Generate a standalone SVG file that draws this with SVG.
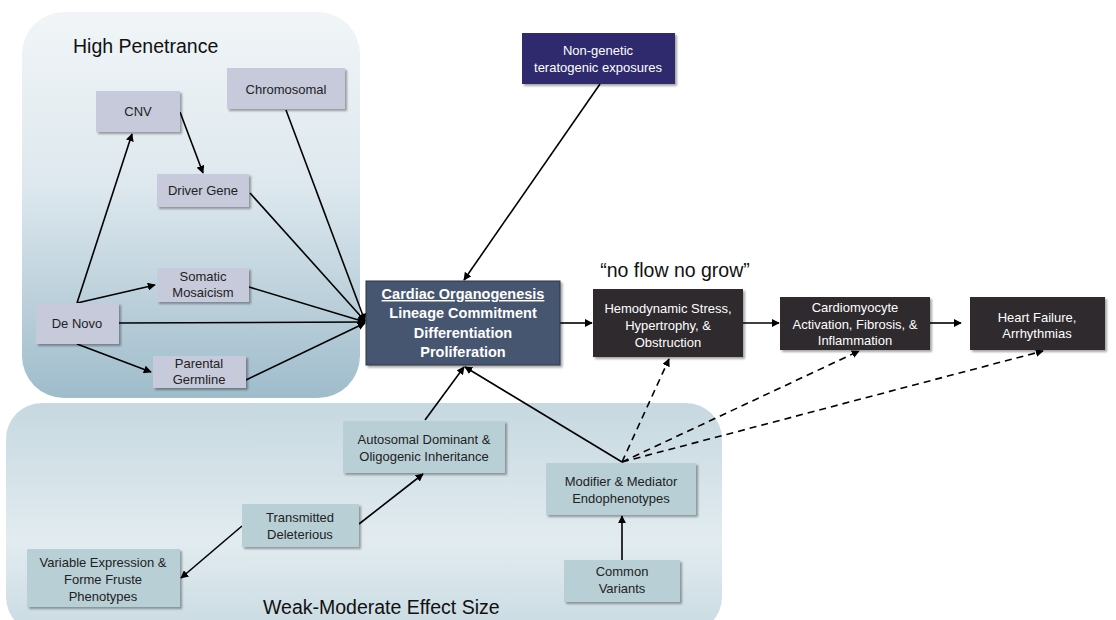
<svg xmlns="http://www.w3.org/2000/svg" width="1116" height="620" viewBox="0 0 1116 620">
<defs>
  <linearGradient id="gTop" x1="0" y1="0" x2="0" y2="1">
    <stop offset="0" stop-color="#f1f5f7"/>
    <stop offset="0.45" stop-color="#dde8ee"/>
    <stop offset="1" stop-color="#9fbccb"/>
  </linearGradient>
  <linearGradient id="gBot" x1="0" y1="0" x2="0" y2="1">
    <stop offset="0" stop-color="#c6d8e0"/>
    <stop offset="0.6" stop-color="#e2ecf0"/>
    <stop offset="1" stop-color="#c9dae2"/>
  </linearGradient>
  <marker id="ah" viewBox="0 0 10 10" refX="9" refY="5" markerWidth="8" markerHeight="8" markerUnits="userSpaceOnUse" orient="auto">
    <path d="M0,0 L10,5 L0,10 z" fill="#000"/>
  </marker>
  <filter id="sh" x="-10%" y="-10%" width="130%" height="140%">
    <feDropShadow dx="2" dy="2" stdDeviation="1.2" flood-color="#000" flood-opacity="0.35"/>
  </filter>
</defs>
<style>
  text { font-family: "Liberation Sans", Arial, sans-serif; text-anchor: middle; }
  .hp rect { fill: #c6cadb; filter: url(#sh); }
  .wm rect { fill: #b9cfd6; filter: url(#sh); }
  .nt { font-size: 13px; fill: #222; }
  .wt { font-size: 13px; fill: #fff; }
  .bt { font-size: 14.5px; fill: #fff; font-weight: bold; }
  .title { font-size: 19.5px; fill: #111; text-anchor: start; }
  .c line, .c polyline { stroke: #000; stroke-width: 1.6; fill: none; marker-end: url(#ah); }
  .c .d { stroke-dasharray: 7 5; }
</style>

<g id="panel-high">
  <rect x="22" y="12" width="338" height="386" rx="42" fill="url(#gTop)"/>
  <text class="title" x="73" y="53">High Penetrance</text>
</g>
<g id="panel-weak">
  <rect x="6" y="403" width="716" height="230" rx="36" fill="url(#gBot)"/>
  <text class="title" x="263" y="614">Weak-Moderate Effect Size</text>
</g>

<g id="connectors" class="c">
  <line x1="286" y1="110" x2="365" y2="321"/>
  <line x1="250" y1="193" x2="365" y2="321"/>
  <line x1="249" y1="287" x2="365" y2="322"/>
  <line x1="119" y1="323" x2="365" y2="322"/>
  <line x1="246" y1="380" x2="365" y2="323"/>
  <line x1="77" y1="303" x2="132" y2="134"/>
  <line x1="77" y1="303" x2="155" y2="285"/>
  <line x1="77" y1="344" x2="151" y2="372"/>
  <line x1="180" y1="112" x2="203" y2="173"/>
  <line x1="600" y1="84" x2="464" y2="280"/>
  <line x1="560" y1="323" x2="592" y2="323"/>
  <line x1="743" y1="323" x2="779" y2="323"/>
  <line x1="930" y1="323" x2="961" y2="323"/>
  <line x1="425" y1="420" x2="464" y2="367"/>
  <line x1="622" y1="462" x2="465" y2="367"/>
  <line class="d" x1="622" y1="462" x2="669" y2="359"/>
  <line class="d" x1="622" y1="462" x2="859" y2="351"/>
  <line class="d" x1="622" y1="462" x2="1043" y2="351"/>
  <line x1="622" y1="560" x2="622" y2="516"/>
  <line x1="359" y1="524" x2="423" y2="474"/>
  <line x1="242" y1="526" x2="181" y2="578"/>
</g>

<g id="n-chromosomal" class="hp"><rect x="227" y="68" width="118" height="41"/><text class="nt" x="286" y="94">Chromosomal</text></g>
<g id="n-cnv" class="hp"><rect x="96" y="91" width="84" height="41"/><text class="nt" x="138" y="116">CNV</text></g>
<g id="n-driver" class="hp"><rect x="157" y="174" width="92" height="33"/><text class="nt" x="203" y="195">Driver Gene</text></g>
<g id="n-somatic" class="hp"><rect x="157" y="268" width="92" height="34"/><text class="nt" x="203" y="281">Somatic</text><text class="nt" x="203" y="297">Mosaicism</text></g>
<g id="n-denovo" class="hp"><rect x="36" y="303" width="83" height="41"/><text class="nt" x="77" y="328">De Novo</text></g>
<g id="n-parental" class="hp"><rect x="153" y="356" width="93" height="32"/><text class="nt" x="199" y="368">Parental</text><text class="nt" x="199" y="384">Germline</text></g>

<g id="n-nongenetic"><rect x="522" y="33" width="153" height="51" fill="#2e2b6d" filter="url(#sh)"/><text class="wt" x="598" y="55">Non-genetic</text><text class="wt" x="598" y="72">teratogenic exposures</text></g>

<g id="n-cardiac"><rect x="366" y="281" width="194" height="84" fill="#46566f" stroke="#2a3344" stroke-width="1" filter="url(#sh)"/>
  <text class="bt" x="463" y="299" text-decoration="underline">Cardiac Organogenesis</text>
  <text class="bt" x="463" y="318">Lineage Commitment</text>
  <text class="bt" x="463" y="338">Differentiation</text>
  <text class="bt" x="463" y="357">Proliferation</text>
</g>

<g id="label-noflow"><text x="675" y="277" style="font-size:19.5px;fill:#111">“no flow no grow”</text></g>

<g id="n-hemo"><rect x="593" y="289" width="150" height="68" fill="#2f2b2d" filter="url(#sh)"/><text class="wt" x="668" y="313">Hemodynamic Stress,</text><text class="wt" x="668" y="330">Hypertrophy, &amp;</text><text class="wt" x="668" y="347">Obstruction</text></g>
<g id="n-cardiomyocyte"><rect x="780" y="297" width="150" height="53" fill="#2f2b2d" filter="url(#sh)"/><text class="wt" x="855" y="312">Cardiomyocyte</text><text class="wt" x="855" y="329">Activation, Fibrosis, &amp;</text><text class="wt" x="855" y="345">Inflammation</text></g>
<g id="n-hf"><rect x="970" y="297" width="135" height="53" fill="#2f2b2d" filter="url(#sh)"/><text class="wt" x="1037" y="322">Heart Failure,</text><text class="wt" x="1037" y="338">Arrhythmias</text></g>

<g id="n-autosomal" class="wm"><rect x="343" y="421" width="162" height="52"/><text class="nt" x="424" y="444">Autosomal Dominant &amp;</text><text class="nt" x="424" y="461">Oligogenic Inheritance</text></g>
<g id="n-modifier" class="wm"><rect x="546" y="463" width="150" height="52"/><text class="nt" x="621" y="486">Modifier &amp; Mediator</text><text class="nt" x="621" y="503">Endophenotypes</text></g>
<g id="n-transmitted" class="wm"><rect x="242" y="504" width="117" height="43"/><text class="nt" x="300" y="522">Transmitted</text><text class="nt" x="300" y="539">Deleterious</text></g>
<g id="n-variable" class="wm"><rect x="27" y="549" width="153" height="58"/><text class="nt" x="103" y="567">Variable Expression &amp;</text><text class="nt" x="103" y="584">Forme Fruste</text><text class="nt" x="103" y="601">Phenotypes</text></g>
<g id="n-common" class="wm"><rect x="564" y="560" width="116" height="42"/><text class="nt" x="622" y="576">Common</text><text class="nt" x="622" y="593">Variants</text></g>
</svg>
